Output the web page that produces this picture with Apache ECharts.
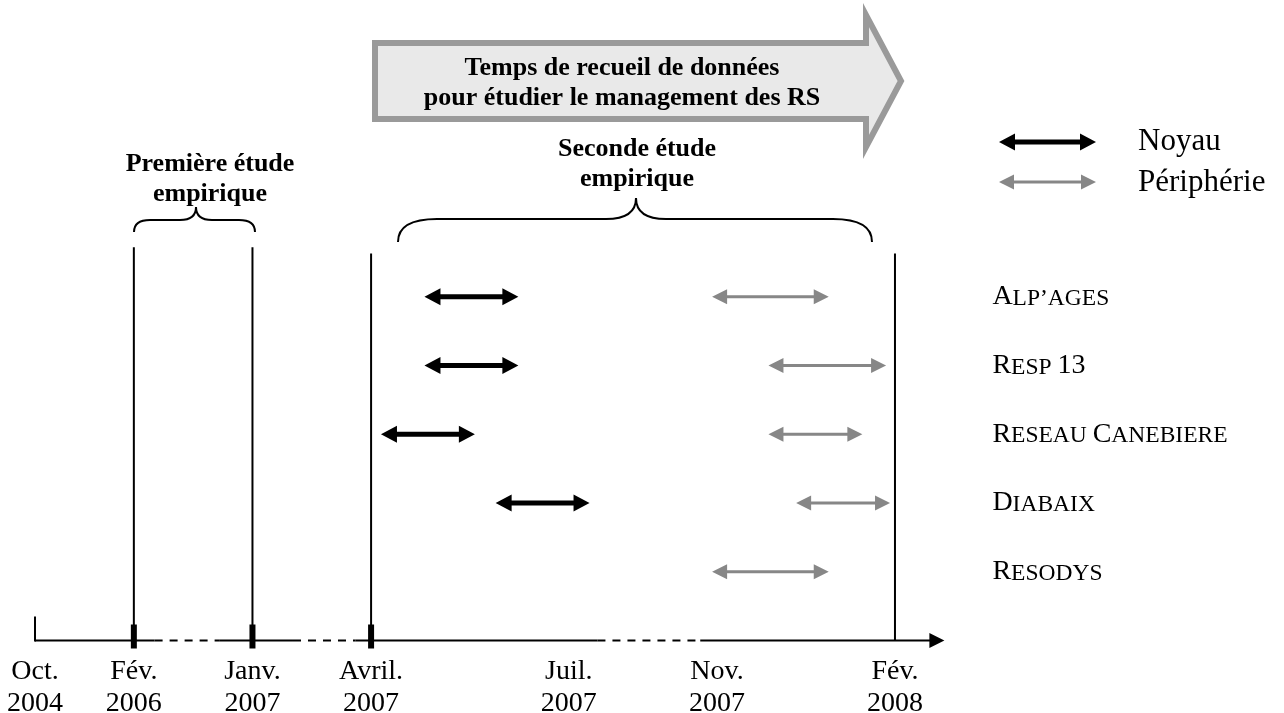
<!DOCTYPE html>
<html>
<head>
<meta charset="utf-8">
<script src="https://cdn.jsdelivr.net/npm/echarts@6/dist/echarts.min.js"></script>
<style>
html,body{margin:0;padding:0;background:#fff;}
#chart{width:1284px;height:713px;}
</style>
</head>
<body>
<div id="chart"></div>
<script>
// axe du temps schematique (positions le long de la frise)
var dateLabels = ['Oct.\n2004', 'Fév.\n2006', 'Janv.\n2007', 'Avril.\n2007', 'Juil.\n2007', 'Nov.\n2007', 'Fév.\n2008'];
var datePos = [0, 10, 22, 34, 54, 69, 87];
// portions en pointilles de l'axe
var axisBreaks = [[12.1, 18.7], [26.1, 32.4], [56.9, 67.3]];
var axisEnd = 92;
// reperes verticaux : Fév 2006, Janv 2007, Avril 2007, Fév 2008
var markedDates = [1, 2, 3, 6];
var boldTicks = [1, 2, 3];

// reseaux
var rows = ['ALP’AGES', 'RESP 13', 'RESEAU CANEBIERE', 'DIABAIX', 'RESODYS'];
var noyauStart = [39.4, 39.4, 35.0, 46.6, null];
var noyauEnd   = [48.9, 48.9, 44.5, 56.1, null];
var periphStart = [68.5, 74.2, 74.2, 77.0, 68.5];
var periphEnd   = [80.3, 86.1, 83.7, 86.5, 80.3];

var FONT = 'Liberation Serif';

function smallCaps(name){
	return name.split(' ').map(function(w){
		if(/^\d+$/.test(w)) return '{b|' + w + '}';
		return '{b|' + w.charAt(0) + '}{s|' + w.slice(1) + '}';
	}).join('{s| }');
}

// fleche a double pointe
function arrowPoints(x1, x2, y, L, w, t){
	return [
		[x1, y], [x1 + L, y - w], [x1 + L, y - t], [x2 - L, y - t], [x2 - L, y - w],
		[x2, y], [x2 - L, y + w], [x2 - L, y + t], [x1 + L, y + t], [x1 + L, y + w]
	];
}
var STYLE = {
	noyau: {color: '#000', L: 16, w: 8.5, t: 2.5},
	periph: {color: '#878787', L: 15, w: 7.5, t: 1.5}
};

// accolade horizontale (pointe vers le haut)
function brace(x0, x1, xp, yEnd, yFlat, yPoint, r, rp){
	var st = {stroke: '#000', lineWidth: 2, fill: null};
	return {
		type: 'group', silent: true,
		children: [
			{type: 'bezierCurve', shape: {x1: x0, y1: yEnd, cpx1: x0, cpy1: yFlat, x2: x0 + r, y2: yFlat}, style: st},
			{type: 'line', shape: {x1: x0 + r, y1: yFlat, x2: xp - rp, y2: yFlat}, style: st},
			{type: 'bezierCurve', shape: {x1: xp - rp, y1: yFlat, cpx1: xp, cpy1: yFlat, x2: xp, y2: yPoint}, style: st},
			{type: 'bezierCurve', shape: {x1: xp, y1: yPoint, cpx1: xp, cpy1: yFlat, x2: xp + rp, y2: yFlat}, style: st},
			{type: 'line', shape: {x1: xp + rp, y1: yFlat, x2: x1 - r, y2: yFlat}, style: st},
			{type: 'bezierCurve', shape: {x1: x1 - r, y1: yFlat, cpx1: x1, cpy1: yFlat, x2: x1, y2: yEnd}, style: st}
		]
	};
}

var noyauData = [], periphData = [];
rows.forEach(function(r, i){
	if(noyauStart[i] != null) noyauData.push([noyauStart[i], noyauEnd[i], i + 1]);
	if(periphStart[i] != null) periphData.push([periphStart[i], periphEnd[i], i + 1]);
});

var segData = [];
var prev = 0;
axisBreaks.forEach(function(b){
	segData.push([prev, b[0], 0]);
	segData.push([b[0], b[1], 1]);
	prev = b[1];
});
segData.push([prev, axisEnd, 0]);

function arrowRender(st){
	return function(params, api){
		var p1 = api.coord([api.value(0), api.value(2)]);
		var p2 = api.coord([api.value(1), api.value(2)]);
		return {
			type: 'polygon',
			shape: {points: arrowPoints(p1[0], p2[0], p1[1], st.L, st.w, st.t)},
			style: {fill: st.color}
		};
	};
}

var chart = echarts.init(document.getElementById('chart'));

var boldText = {fill: '#000', font: 'bold 26px "' + FONT + '"', textAlign: 'center', textVerticalAlign: 'middle', lineHeight: 30};

var option = {
	animation: false,
	backgroundColor: '#fff',
	grid: {left: 35, right: 339.6, top: 228, bottom: 72.5, containLabel: false, outerBoundsMode: 'none'},
	xAxis: {
		type: 'value', min: 0, max: axisEnd,
		axisLine: {show: false}, axisTick: {show: false}, splitLine: {show: false},
		axisLabel: {
			customValues: datePos,
			margin: 15,
			color: '#000',
			fontFamily: FONT,
			fontSize: 28,
			lineHeight: 32,
			formatter: function(v){
				var i = datePos.indexOf(v);
				return i >= 0 ? dateLabels[i] : '';
			}
		}
	},
	yAxis: {
		type: 'value', min: 0, max: 6, interval: 1, inverse: true, position: 'right',
		axisLine: {show: false}, axisTick: {show: false}, splitLine: {show: false},
		axisLabel: {
			margin: 48,
			align: 'left',
			formatter: function(v){
				return (v >= 1 && v <= rows.length) ? smallCaps(rows[v - 1]) : '';
			},
			rich: {
				b: {fontFamily: FONT, fontSize: 28, color: '#000', verticalAlign: 'bottom'},
				s: {fontFamily: FONT, fontSize: 23.5, color: '#000', verticalAlign: 'bottom'}
			}
		}
	},
	series: [
		{
			// axe horizontal
			type: 'custom', name: 'axe', silent: true,
			data: segData,
			renderItem: function(params, api){
				var a = api.coord([api.value(0), 6]);
				var b = api.coord([api.value(1), 6]);
				var dashed = api.value(2) === 1;
				var children = [{
					type: 'line',
					shape: {x1: a[0], y1: a[1], x2: b[0], y2: b[1]},
					style: {stroke: '#000', lineWidth: 2, lineDash: dashed ? [8, 7] : null}
				}];
				if(params.dataIndex === 0){
					children.push({type: 'line', shape: {x1: a[0], y1: a[1] - 24, x2: a[0], y2: a[1] + 1}, style: {stroke: '#000', lineWidth: 2}});
				}
				if(api.value(1) === axisEnd){
					children[0].shape.x2 = b[0] - 10;
					children.push({type: 'polygon', shape: {points: [[b[0] - 15, b[1] - 7.5], [b[0], b[1]], [b[0] - 15, b[1] + 7.5]]}, style: {fill: '#000'}});
				}
				return {type: 'group', children: children};
			}
		},
		{
			// reperes verticaux
			type: 'custom', name: 'reperes', silent: true,
			data: markedDates.map(function(i){ return [datePos[i], i < 3 ? 0.28 : 0.37]; }),
			renderItem: function(params, api){
				var top = api.coord([api.value(0), api.value(1)]);
				var bot = api.coord([api.value(0), 6]);
				return {type: 'line', shape: {x1: top[0], y1: top[1], x2: bot[0], y2: bot[1]}, style: {stroke: '#000', lineWidth: 2}};
			}
		},
		{
			// graduations epaisses
			type: 'custom', name: 'graduations', silent: true,
			data: boldTicks.map(function(i){ return [datePos[i]]; }),
			renderItem: function(params, api){
				var p = api.coord([api.value(0), 6]);
				return {type: 'rect', shape: {x: p[0] - 3, y: p[1] - 16, width: 6, height: 24}, style: {fill: '#000'}};
			}
		},
		{
			type: 'custom', name: 'Noyau', silent: true,
			data: noyauData,
			renderItem: arrowRender(STYLE.noyau)
		},
		{
			type: 'custom', name: 'Périphérie', silent: true,
			data: periphData,
			renderItem: arrowRender(STYLE.periph)
		}
	],
	graphic: [
		{
			type: 'polygon', silent: true,
			shape: {points: [[375, 43], [866, 43], [866, 15], [901, 81], [866, 147], [866, 119], [375, 119]]},
			style: {fill: '#e9e9e9', stroke: '#9a9a9a', lineWidth: 6, lineJoin: 'miter'}
		},
		{
			type: 'text', x: 622, y: 83, silent: true,
			style: Object.assign({text: 'Temps de recueil de données\npour étudier le management des RS'}, boldText)
		},
		{
			type: 'text', x: 210, y: 179, silent: true,
			style: Object.assign({text: 'Première étude\nempirique'}, boldText)
		},
		{
			type: 'text', x: 637, y: 164, silent: true,
			style: Object.assign({text: 'Seconde étude\nempirique'}, boldText)
		},
		brace(134, 255, 196, 232, 220, 207, 16, 16),
		brace(398, 872, 636, 242, 219, 198, 39, 30),
		{
			type: 'polygon', silent: true,
			shape: {points: arrowPoints(999, 1096, 142, STYLE.noyau.L, STYLE.noyau.w, STYLE.noyau.t)},
			style: {fill: STYLE.noyau.color}
		},
		{
			type: 'polygon', silent: true,
			shape: {points: arrowPoints(999, 1096, 182, STYLE.periph.L, STYLE.periph.w, STYLE.periph.t)},
			style: {fill: STYLE.periph.color}
		},
		{
			type: 'text', x: 1138, y: 142, silent: true,
			style: {text: 'Noyau', fill: '#000', font: '31px "' + FONT + '"', textVerticalAlign: 'middle'}
		},
		{
			type: 'text', x: 1138, y: 183, silent: true,
			style: {text: 'Périphérie', fill: '#000', font: '31px "' + FONT + '"', textVerticalAlign: 'middle'}
		}
	]
};
chart.setOption(option);
</script>
</body>
</html>
